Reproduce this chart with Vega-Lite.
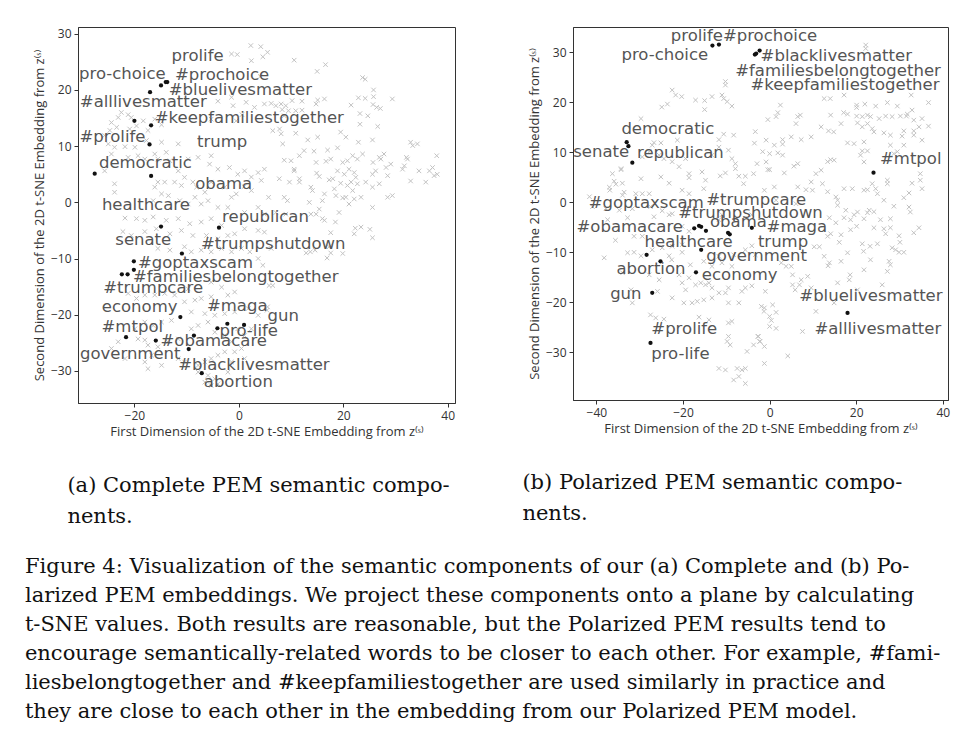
{
 "$schema": "https://vega.github.io/schema/vega-lite/v6.json",
 "background": "white",
 "padding": {"left": 24, "top": 26, "right": 5, "bottom": 5},
 "autosize": {"type": "pad"},
 "config": {
  "view": {"stroke": "#333", "strokeWidth": 1},
  "axis": {"grid": false, "domainColor": "#333", "tickColor": "#333", "tickSize": 4, "labelFont": "Open Sans", "labelFontSize": 12, "labelColor": "#333", "titleFont": "Open Sans", "titleFontSize": 13, "titleFontWeight": "normal", "titleColor": "#333", "labelPadding": 3, "titlePadding": 4},
  "title": {"font": "DejaVu Serif", "fontSize": 21, "fontWeight": "normal", "color": "#111", "anchor": "start", "lineHeight": 30, "orient": "bottom", "frame": "bounds"}
 },
 "title": {"text": ["Figure 4: Visualization of the semantic components of our (a) Complete and (b) Po-", "larized PEM embeddings. We project these components onto a plane by calculating", "t-SNE values. Both results are reasonable, but the Polarized PEM results tend to", "encourage semantically-related words to be closer to each other. For example, #fami-", "liesbelongtogether and #keepfamiliestogether are used similarly in practice and", "they are close to each other in the embedding from our Polarized PEM model."], "orient": "bottom", "anchor": "start", "frame": "bounds", "offset": 28, "dx": -8, "lineHeight": 29, "fontSize": 21},
 "datasets": {
  "bgA": [
   {"x":-1.4,"y":26.4},{"x":-0.3,"y":26.3},{"x":2.3,"y":27.9},{"x":4.2,"y":27.7},{"x":4.6,"y":25.9},{"x":2.4,"y":25.2},{"x":4.1,"y":22.4},{"x":-1.4,"y":18.7},{"x":-1.1,"y":17.2},{"x":1.4,"y":17.8},{"x":3.0,"y":16.9},{"x":4.9,"y":17.5},{"x":-0.5,"y":14.5},{"x":0.6,"y":15.6},{"x":-4.0,"y":18.0},{"x":-5.3,"y":14.8},{"x":-22.5,"y":16.0},{"x":-21.2,"y":15.6},{"x":-20.6,"y":15.1},{"x":-23.1,"y":15.1},{"x":-24.4,"y":14.2},{"x":-23.4,"y":13.35},{"x":-24.7,"y":12.8},{"x":-25.7,"y":11.9},{"x":-25.0,"y":10.4},{"x":-23.8,"y":9.8},{"x":-21.8,"y":9.9},{"x":-19.9,"y":9.8},{"x":-20.9,"y":13.05},{"x":-19.6,"y":13.6},{"x":-18.3,"y":14.5},{"x":-16.1,"y":14.8},{"x":-14.8,"y":13.8},{"x":-17.4,"y":12.8},{"x":-17.7,"y":11.0},{"x":-14.8,"y":10.7},{"x":-13.9,"y":8.9},{"x":-16.1,"y":8.6},{"x":-18.0,"y":7.7},{"x":-19.3,"y":8.3},{"x":-21.2,"y":8.0},{"x":-15.5,"y":7.7},{"x":-13.2,"y":7.4},{"x":-11.6,"y":10.4},{"x":-9.7,"y":7.7},{"x":-7.8,"y":8.0},{"x":-5.3,"y":8.3},{"x":-5.6,"y":6.8},{"x":-4.0,"y":5.9},{"x":-1.8,"y":6.2},{"x":-0.2,"y":5.0},{"x":1.1,"y":5.6},{"x":2.4,"y":4.5},{"x":3.7,"y":5.3},{"x":4.3,"y":3.9},{"x":4.9,"y":5.9},{"x":2.4,"y":2.1},{"x":1.0,"y":2.8},{"x":-0.5,"y":1.5},{"x":-2.7,"y":2.7},{"x":-1.4,"y":0.9},{"x":-5.3,"y":3.6},{"x":-6.5,"y":1.8},{"x":-8.1,"y":2.7},{"x":-8.8,"y":3.6},{"x":-11.0,"y":3.0},{"x":-12.3,"y":3.6},{"x":-14.2,"y":3.6},{"x":-15.5,"y":3.6},{"x":-16.1,"y":2.7},{"x":-23.8,"y":3.3},{"x":-23.8,"y":1.8},{"x":-25.7,"y":5.6},{"x":-24.4,"y":8.6},{"x":-11.6,"y":5.6},{"x":-10.4,"y":4.45},{"x":-8.4,"y":0.9},{"x":-9.7,"y":-0.3},{"x":-11.3,"y":0.3},{"x":-13.5,"y":1.2},{"x":-14.8,"y":1.5},{"x":-16.4,"y":0.3},{"x":-7.2,"y":-0.3},{"x":-5.9,"y":0.3},{"x":-4.0,"y":-0.9},{"x":-2.1,"y":-0.9},{"x":1.1,"y":-1.8},{"x":3.7,"y":-0.9},{"x":4.9,"y":-2.1},
   {"x":5.5,"y":26.7},{"x":10.6,"y":25.3},{"x":16.6,"y":24.5},{"x":15.0,"y":23.3},{"x":23.7,"y":22.2},{"x":24.2,"y":21.9},{"x":25.8,"y":20.0},{"x":29.4,"y":18.4},{"x":22.9,"y":18.6},{"x":24.2,"y":18.5},{"x":25.8,"y":18.8},{"x":21.5,"y":17.3},{"x":23.2,"y":15.8},{"x":24.7,"y":15.4},{"x":26.4,"y":16.9},{"x":25.7,"y":17.4},{"x":27.1,"y":16.7},{"x":23.2,"y":13.9},{"x":26.6,"y":13.5},{"x":25.6,"y":11.1},{"x":15.1,"y":18.2},{"x":16.4,"y":18.4},{"x":14.8,"y":17.5},{"x":12.1,"y":18.0},{"x":12.1,"y":16.4},{"x":10.2,"y":18.1},{"x":9.0,"y":17.2},{"x":8.1,"y":17.5},{"x":7.1,"y":17.2},{"x":6.2,"y":17.6},{"x":8.3,"y":16.5},{"x":9.5,"y":16.3},{"x":10.9,"y":16.3},{"x":8.7,"y":15.4},{"x":7.8,"y":13.05},{"x":6.5,"y":12.75},{"x":8.1,"y":12.2},{"x":10.9,"y":12.3},{"x":13.2,"y":11.1},{"x":15.1,"y":11.6},{"x":8.4,"y":10.4},{"x":8.7,"y":7.5},{"x":10.0,"y":7.4},{"x":10.6,"y":5.9},{"x":11.6,"y":8.3},{"x":12.5,"y":9.2},{"x":14.4,"y":9.1},{"x":17.0,"y":9.3},{"x":18.9,"y":9.7},{"x":20.5,"y":11.6},{"x":19.5,"y":12.5},{"x":22.9,"y":10.7},{"x":23.7,"y":8.6},{"x":21.8,"y":8.3},{"x":20.8,"y":7.4},{"x":22.7,"y":7.7},{"x":19.9,"y":7.1},{"x":17.6,"y":7.7},{"x":16.7,"y":7.3},{"x":14.8,"y":7.1},{"x":14.9,"y":5.2},{"x":15.4,"y":4.6},{"x":17.3,"y":4.0},{"x":18.0,"y":4.2},{"x":18.9,"y":5.6},{"x":20.2,"y":5.0},{"x":21.1,"y":5.9},{"x":22.1,"y":5.3},{"x":22.4,"y":4.45},{"x":22.7,"y":3.3},{"x":21.5,"y":3.6},{"x":21.8,"y":2.1},{"x":20.8,"y":3.0},{"x":19.5,"y":3.4},{"x":18.3,"y":2.4},{"x":16.4,"y":1.5},{"x":18.6,"y":1.2},{"x":19.9,"y":0.8},{"x":24.3,"y":3.6},{"x":25.6,"y":5.0},{"x":26.2,"y":5.6},{"x":25.7,"y":7.1},{"x":26.9,"y":8.0},{"x":27.8,"y":8.6},{"x":27.2,"y":7.7},{"x":28.2,"y":6.2},{"x":29.1,"y":6.8},{"x":28.5,"y":4.75},{"x":28.5,"y":0.9},{"x":29.4,"y":1.2},{"x":26.9,"y":3.3},{"x":25.6,"y":2.7},{"x":31.35,"y":5.9},{"x":31.7,"y":6.5},{"x":32.9,"y":3.8},{"x":34.5,"y":5.6},{"x":35.8,"y":3.6},{"x":36.5,"y":5.6},{"x":37.1,"y":6.2},{"x":37.4,"y":4.75},{"x":38.0,"y":5.0},{"x":32.3,"y":7.7},{"x":32.1,"y":8.0},{"x":32.9,"y":10.7},{"x":33.3,"y":10.1},{"x":34.2,"y":10.4},{"x":37.9,"y":8.3},{"x":14.1,"y":2.1},{"x":13.8,"y":2.7},{"x":9.3,"y":0.3},{"x":8.7,"y":0.9},{"x":9.7,"y":3.6},{"x":10.6,"y":5.6},{"x":11.6,"y":3.6},{"x":11.6,"y":4.2},{"x":7.75,"y":4.2},{"x":5.7,"y":0.9},{"x":13.5,"y":0.0},{"x":15.4,"y":-1.2},{"x":16.0,"y":0.3},{"x":19.2,"y":-1.8},{"x":20.5,"y":0.9},{"x":21.1,"y":-0.3},{"x":22.1,"y":0.6},{"x":23.4,"y":0.9},{"x":25.6,"y":-0.9},{"x":14.8,"y":-2.1},{"x":13.8,"y":-2.1},{"x":9.0,"y":-2.1},{"x":7.1,"y":-1.8},
   {"x":-21.8,"y":-2.8},{"x":-19.6,"y":-2.9},{"x":-18.0,"y":-3.2},{"x":-16.4,"y":-2.6},{"x":-13.9,"y":-3.2},{"x":-11.6,"y":-2.9},{"x":-9.4,"y":-3.8},{"x":-7.2,"y":-3.5},{"x":-5.3,"y":-2.9},{"x":-3.3,"y":-4.1},{"x":-0.8,"y":-5.6},{"x":1.1,"y":-4.7},{"x":3.7,"y":-5.0},{"x":4.9,"y":-5.3},{"x":-22.2,"y":-5.2},{"x":-20.6,"y":-5.9},{"x":-18.0,"y":-5.2},{"x":-15.8,"y":-4.7},{"x":-13.2,"y":-5.6},{"x":-11.0,"y":-5.0},{"x":-8.8,"y":-5.9},{"x":-6.2,"y":-5.9},{"x":-4.0,"y":-6.5},{"x":-2.1,"y":-5.9},{"x":-15.5,"y":-8.2},{"x":-13.2,"y":-8.5},{"x":-10.4,"y":-7.9},{"x":-9.1,"y":-8.8},{"x":-7.2,"y":-8.5},{"x":-5.3,"y":-8.8},{"x":-3.3,"y":-8.2},{"x":-1.4,"y":-8.8},{"x":0.5,"y":-8.2},{"x":2.1,"y":-8.8},{"x":3.7,"y":-10.0},{"x":4.6,"y":-11.2},{"x":-5.3,"y":-14.2},{"x":-3.3,"y":-15.1},{"x":-2.1,"y":-16.5},{"x":-0.8,"y":-15.95},{"x":-5.3,"y":-16.8},{"x":-7.2,"y":-17.1},{"x":-8.4,"y":-17.4},{"x":-10.4,"y":-17.7},{"x":-9.7,"y":-15.4},{"x":-12.3,"y":-16.5},{"x":-14.2,"y":-16.2},{"x":-16.1,"y":-16.5},{"x":-18.0,"y":-16.5},{"x":-19.6,"y":-17.1},{"x":-21.2,"y":-16.2},{"x":-9.1,"y":-19.5},{"x":-6.5,"y":-19.8},{"x":-4.6,"y":-20.1},{"x":-2.7,"y":-19.8},{"x":-0.8,"y":-19.5},{"x":1.8,"y":-18.9},{"x":3.7,"y":-20.1},{"x":-12.9,"y":-21.0},{"x":-14.8,"y":-21.3},{"x":-16.4,"y":-21.9},{"x":-18.0,"y":-21.3},{"x":-19.9,"y":-22.5},{"x":-19.3,"y":-24.3},{"x":-18.0,"y":-24.5},{"x":-17.4,"y":-25.4},{"x":-15.5,"y":-25.7},{"x":-16.7,"y":-27.2},{"x":-18.0,"y":-28.4},{"x":-17.4,"y":-29.6},{"x":-13.6,"y":-24.8},{"x":-11.6,"y":-24.3},{"x":-9.1,"y":-22.5},{"x":-7.8,"y":-21.9},{"x":-5.9,"y":-21.3},{"x":-4.6,"y":-23.1},{"x":-2.7,"y":-23.7},{"x":-1.4,"y":-24.8},{"x":-0.2,"y":-22.5},{"x":1.1,"y":-23.7},{"x":2.4,"y":-22.5},{"x":0.5,"y":-26.0},{"x":-0.8,"y":-26.6},{"x":-2.7,"y":-26.6},{"x":-4.0,"y":-27.2},{"x":-5.3,"y":-27.8},{"x":-6.5,"y":-28.4},{"x":-7.8,"y":-29.0},{"x":-5.9,"y":-30.8},{"x":-4.6,"y":-31.4},{"x":-4.0,"y":-32.3},{"x":-5.3,"y":-32.6},{"x":-6.5,"y":-32.0},{"x":-7.8,"y":-30.2},{"x":-10.4,"y":-28.4},{"x":-11.6,"y":-27.8},{"x":-1.4,"y":-28.4},{"x":1.1,"y":-27.8},{"x":-2.1,"y":-30.2},{"x":-14.8,"y":-29.0},{"x":-21.8,"y":-27.8},{"x":-24.4,"y":-26.0},{"x":-23.1,"y":-24.8},
   {"x":16.0,"y":-2.9},{"x":18.5,"y":-3.5},{"x":17.6,"y":-5.4},{"x":16.4,"y":-3.2},{"x":22.3,"y":-4.6},{"x":23.4,"y":-4.4},{"x":25.1,"y":-4.8},{"x":22.1,"y":-5.6},{"x":25.6,"y":-6.3},{"x":17.3,"y":-7.9},{"x":16.9,"y":-9.9},{"x":17.6,"y":-9.0},{"x":19.9,"y":-9.1},{"x":12.9,"y":-9.0},{"x":13.7,"y":-8.8},{"x":14.6,"y":-8.5},{"x":6.2,"y":-8.2},{"x":5.8,"y":-14.8},{"x":6.5,"y":-14.8},{"x":5.4,"y":-19.2},{"x":5.5,"y":-18.6}
  ],
  "ptA": [
   {"word":"prolife","x":-13.7,"y":21.4},{"word":"pro-choice","x":-17.0,"y":19.6},{"word":"#prochoice","x":-14.0,"y":21.4},{"word":"#bluelivesmatter","x":-14.9,"y":20.8},{"word":"#alllivesmatter","x":-20.0,"y":14.5},{"word":"#keepfamiliestogether","x":-16.8,"y":13.7},{"word":"#prolife","x":-17.1,"y":10.3},{"word":"democratic","x":-27.6,"y":5.1},{"word":"trump","x":-16.8,"y":4.7},{"word":"healthcare","x":-14.9,"y":-4.3},{"word":"republican","x":-3.8,"y":-4.5},{"word":"senate","x":-10.9,"y":-9.1},{"word":"#goptaxscam","x":-20.1,"y":-10.5},{"word":"#familiesbelongtogether","x":-20.1,"y":-12.0},{"word":"#trumpcare","x":-22.4,"y":-12.8},{"word":"#trumpshutdown","x":-21.3,"y":-12.8},{"word":"economy","x":-11.2,"y":-20.4},{"word":"#mtpol","x":-21.6,"y":-24.0},{"word":"#obamacare","x":-15.9,"y":-24.6},{"word":"government","x":-8.6,"y":-23.7},{"word":"#blacklivesmatter","x":-9.6,"y":-26.1},{"word":"#maga","x":-4.1,"y":-22.4},{"word":"pro-life","x":-2.2,"y":-21.6},{"word":"gun","x":1.0,"y":-21.8},{"word":"abortion","x":-7.1,"y":-30.4}
  ],
  "lblA": [
   {"word":"prolife","x":-7.9,"y":26.0},{"word":"pro-choice","x":-22.3,"y":22.8},{"word":"#prochoice","x":-3.2,"y":22.7},{"word":"#bluelivesmatter","x":0.3,"y":20.0},{"word":"#alllivesmatter","x":-18.3,"y":17.8},{"word":"#keepfamiliestogether","x":2.0,"y":15.0},{"word":"#prolife","x":-24.2,"y":11.7},{"word":"trump","x":-3.2,"y":10.8},{"word":"democratic","x":-17.9,"y":7.0},{"word":"obama","x":-2.9,"y":3.3},{"word":"healthcare","x":-17.8,"y":-0.4},{"word":"republican","x":5.1,"y":-2.6},{"word":"senate","x":-18.3,"y":-6.7},{"word":"#trumpshutdown","x":6.6,"y":-7.4},{"word":"#goptaxscam","x":-8.3,"y":-10.8},{"word":"#familiesbelongtogether","x":-0.6,"y":-13.3},{"word":"#trumpcare","x":-16.4,"y":-15.2},{"word":"economy","x":-19.0,"y":-18.6},{"word":"#maga","x":-0.3,"y":-18.5},{"word":"gun","x":8.5,"y":-20.2},{"word":"#mtpol","x":-20.4,"y":-22.2},{"word":"pro-life","x":1.9,"y":-22.9},{"word":"#obamacare","x":-4.8,"y":-24.7},{"word":"government","x":-20.8,"y":-27.0},{"word":"#blacklivesmatter","x":2.9,"y":-28.9},{"word":"abortion","x":-0.1,"y":-31.9}
  ],
  "bgB": [
   {"x":-22.5,"y":22.4},{"x":-21.7,"y":21.4},{"x":-20.3,"y":21.1},{"x":-17.1,"y":20.4},{"x":-15.0,"y":20.3},{"x":-13.3,"y":21.1},{"x":-11.0,"y":21.4},{"x":-10.2,"y":23.4},{"x":-10.2,"y":24.1},{"x":-10.6,"y":20.7},{"x":-9.8,"y":20.1},{"x":-8.7,"y":19.2},{"x":-15.0,"y":18.5},{"x":-23.6,"y":19.6},{"x":-24.9,"y":19.0},{"x":-29.7,"y":16.7},{"x":-10.6,"y":13.6},{"x":-8.3,"y":13.4},{"x":-11.7,"y":12.5},{"x":-11.7,"y":11.0},{"x":-13.3,"y":9.4},{"x":-9.5,"y":10.4},{"x":-8.7,"y":8.7},{"x":-7.9,"y":7.7},{"x":-7.9,"y":6.7},{"x":-5.6,"y":5.2},{"x":-3.7,"y":5.7},{"x":-2.9,"y":7.7},{"x":-3.5,"y":11.8},{"x":-3.3,"y":14.1},{"x":-7.1,"y":5.2},{"x":-6.0,"y":3.7},{"x":-10.2,"y":5.85},{"x":-11.4,"y":5.25},{"x":-14.8,"y":4.4},{"x":-15.6,"y":6.05},{"x":-18.6,"y":5.7},{"x":-18.6,"y":4.9},{"x":-20.9,"y":7.1},{"x":-22.5,"y":8.1},{"x":-24.4,"y":8.7},{"x":-25.5,"y":9.4},{"x":-26.7,"y":11.9},{"x":-29.7,"y":4.7},{"x":-29.4,"y":1.7},{"x":-30.9,"y":1.7},{"x":-34.0,"y":3.8},{"x":-35.9,"y":4.2},{"x":-37.0,"y":3.0},{"x":-36.9,"y":2.4},{"x":-35.5,"y":3.6},{"x":-36.3,"y":5.7},{"x":-34.3,"y":6.5},{"x":-25.1,"y":5.05},{"x":-23.2,"y":3.8},{"x":-20.2,"y":2.4},{"x":-18.6,"y":1.7},{"x":-15.2,"y":2.7},{"x":-27.8,"y":1.7},{"x":-33.6,"y":2.0},{"x":-27.5,"y":-0.9},{"x":-24.8,"y":-1.7},{"x":-22.5,"y":-2.3},{"x":-31.7,"y":-1.3},{"x":-34.7,"y":-1.6},{"x":-37.8,"y":-1.3},{"x":-40.9,"y":-0.9},{"x":-41.6,"y":1.1},{"x":-33.96,"y":1.4},{"x":-21.3,"y":12.4},{"x":-19.4,"y":8.7},{"x":-25.1,"y":11.85},{"x":-27.1,"y":11.4},{"x":-29.4,"y":9.05},{"x":-27.8,"y":10.1},{"x":-34.3,"y":6.7},
   {"x":22.2,"y":31.4},{"x":22.2,"y":30.7},{"x":12.6,"y":20.7},{"x":14.0,"y":20.7},{"x":17.2,"y":21.4},{"x":20.1,"y":19.4},{"x":20.1,"y":18.9},{"x":22.0,"y":19.6},{"x":24.5,"y":19.2},{"x":27.2,"y":19.9},{"x":29.5,"y":19.2},{"x":32.7,"y":21.4},{"x":32.9,"y":18.4},{"x":36.7,"y":19.9},{"x":35.2,"y":16.7},{"x":33.3,"y":16.4},{"x":31.6,"y":17.2},{"x":31.8,"y":17.6},{"x":30.2,"y":17.2},{"x":28.3,"y":17.1},{"x":26.8,"y":17.2},{"x":25.3,"y":16.7},{"x":23.3,"y":17.1},{"x":22.6,"y":17.4},{"x":21.4,"y":17.1},{"x":20.1,"y":17.2},{"x":18.0,"y":17.6},{"x":17.1,"y":17.9},{"x":14.1,"y":17.4},{"x":7.1,"y":17.4},{"x":6.5,"y":17.1},{"x":1.9,"y":17.9},{"x":2.5,"y":19.4},{"x":1.5,"y":17.1},{"x":-0.4,"y":16.5},{"x":6.1,"y":15.7},{"x":11.9,"y":15.05},{"x":13.6,"y":14.25},{"x":14.8,"y":14.05},{"x":9.6,"y":13.05},{"x":7.3,"y":12.5},{"x":5.0,"y":13.05},{"x":3.0,"y":12.5},{"x":1.1,"y":11.4},{"x":3.0,"y":11.6},{"x":-0.8,"y":12.4},{"x":-1.6,"y":10.1},{"x":0.0,"y":9.7},{"x":1.9,"y":9.85},{"x":3.0,"y":9.4},{"x":6.5,"y":7.7},{"x":5.6,"y":7.2},{"x":3.4,"y":5.85},{"x":-0.4,"y":6.5},{"x":-0.8,"y":8.05},{"x":0.0,"y":6.5},{"x":14.1,"y":8.5},{"x":14.9,"y":8.4},{"x":13.4,"y":8.1},{"x":11.9,"y":6.4},{"x":10.7,"y":5.7},{"x":9.6,"y":4.05},{"x":8.4,"y":2.5},{"x":9.9,"y":2.4},{"x":12.2,"y":3.7},{"x":13.4,"y":2.1},{"x":15.3,"y":1.05},{"x":15.7,"y":0.4},{"x":17.2,"y":2.7},{"x":19.1,"y":2.7},{"x":21.8,"y":2.4},{"x":22.6,"y":2.5},{"x":23.7,"y":3.7},{"x":24.5,"y":2.7},{"x":24.9,"y":1.7},{"x":23.0,"y":-1.6},{"x":24.1,"y":-1.9},{"x":26.4,"y":0.4},{"x":28.7,"y":-0.8},{"x":31.0,"y":0.9},{"x":32.2,"y":1.85},{"x":32.2,"y":-0.96},{"x":32.5,"y":-1.96},{"x":35.2,"y":2.7},{"x":34.8,"y":4.4},{"x":34.8,"y":5.7},{"x":32.9,"y":3.8},{"x":27.2,"y":3.7},{"x":27.2,"y":4.4},{"x":21.8,"y":8.05},{"x":21.0,"y":9.4},{"x":21.4,"y":10.25},{"x":22.6,"y":10.25},{"x":21.8,"y":12.05},{"x":19.5,"y":11.7},{"x":18.0,"y":11.85},{"x":16.5,"y":15.7},{"x":20.3,"y":15.85},{"x":21.4,"y":15.05},{"x":22.6,"y":15.7},{"x":23.7,"y":14.7},{"x":24.1,"y":14.05},{"x":26.4,"y":13.85},{"x":27.9,"y":13.4},{"x":31.0,"y":14.25},{"x":30.6,"y":13.2},{"x":33.3,"y":13.4},{"x":33.3,"y":14.25},{"x":34.5,"y":15.05},{"x":35.2,"y":12.4},{"x":36.7,"y":15.2},{"x":28.7,"y":9.7},{"x":29.5,"y":10.1},{"x":31.0,"y":11.4},{"x":27.9,"y":11.4},{"x":1.1,"y":3.05},{"x":1.5,"y":0.4},{"x":-1.2,"y":2.4},{"x":6.5,"y":3.05},{"x":6.1,"y":-0.3},{"x":15.7,"y":-0.6},{"x":17.6,"y":-1.6},{"x":20.3,"y":-1.96},
   {"x":-38.2,"y":-11.1},{"x":-35.6,"y":-7.6},{"x":-32.8,"y":-10.1},{"x":-31.3,"y":-10.0},{"x":-29.7,"y":-10.7},{"x":-26.7,"y":-2.9},{"x":-23.2,"y":-2.5},{"x":-20.2,"y":-4.8},{"x":-18.6,"y":-5.8},{"x":-23.2,"y":-10.7},{"x":-22.6,"y":-11.5},{"x":-20.2,"y":-10.0},{"x":-18.3,"y":-12.5},{"x":-18.6,"y":-15.1},{"x":-20.9,"y":-14.5},{"x":-20.2,"y":-16.1},{"x":-19.4,"y":-17.5},{"x":-17.1,"y":-16.5},{"x":-15.9,"y":-16.1},{"x":-14.8,"y":-16.5},{"x":-13.3,"y":-17.1},{"x":-11.7,"y":-18.1},{"x":-10.2,"y":-18.1},{"x":-9.5,"y":-17.1},{"x":-13.3,"y":-19.1},{"x":-15.2,"y":-19.5},{"x":-16.7,"y":-19.8},{"x":-17.9,"y":-20.1},{"x":-19.8,"y":-20.1},{"x":-22.5,"y":-19.1},{"x":-25.9,"y":-17.8},{"x":-25.5,"y":-15.5},{"x":-27.8,"y":-14.5},{"x":-32.0,"y":-17.5},{"x":-31.7,"y":-20.1},{"x":-27.5,"y":-22.5},{"x":-26.3,"y":-23.1},{"x":-24.4,"y":-23.35},{"x":-16.3,"y":-22.95},{"x":-14.0,"y":-23.5},{"x":-9.5,"y":-24.1},{"x":-8.7,"y":-23.8},{"x":-9.5,"y":-26.8},{"x":-9.1,"y":-28.5},{"x":-9.8,"y":-27.8},{"x":-11.7,"y":-33.2},{"x":-10.2,"y":-33.5},{"x":-7.5,"y":-33.2},{"x":-6.4,"y":-33.5},{"x":-5.6,"y":-33.2},{"x":-7.1,"y":-34.8},{"x":-8.3,"y":-35.5},{"x":-5.6,"y":-36.2},{"x":-2.6,"y":-26.8},{"x":-3.7,"y":-28.5},{"x":-5.2,"y":-29.8},{"x":-2.2,"y":-27.8},{"x":-6.4,"y":-17.8},{"x":-5.6,"y":-17.1},{"x":-4.1,"y":-16.7},{"x":-7.1,"y":-20.1},{"x":-9.5,"y":-20.1},{"x":-5.6,"y":-9.5},{"x":-4.1,"y":-8.7},{"x":-3.3,"y":-10.5},{"x":-11.0,"y":-12.1},{"x":-8.7,"y":-12.8},{"x":-14.0,"y":-16.1},{"x":-11.7,"y":-3.5},{"x":-11.0,"y":-2.5},{"x":-4.1,"y":-2.5},{"x":-37.4,"y":-3.5},{"x":-32.8,"y":-3.1},{"x":-31.3,"y":-6.8},{"x":-29.4,"y":-6.8},{"x":-27.1,"y":-9.5},{"x":-24.8,"y":-9.1},{"x":-22.5,"y":-8.8},{"x":-20.2,"y":-8.5},{"x":-15.2,"y":-11.8},{"x":-13.3,"y":-12.8},{"x":-11.7,"y":-10.8},{"x":-8.3,"y":-10.5},{"x":-33.96,"y":-14.1},
   {"x":13.8,"y":-3.1},{"x":15.3,"y":-4.1},{"x":17.2,"y":-3.1},{"x":18.7,"y":-3.5},{"x":20.1,"y":-4.8},{"x":21.8,"y":-3.3},{"x":24.1,"y":-5.1},{"x":25.6,"y":-3.5},{"x":26.4,"y":-5.3},{"x":27.9,"y":-5.1},{"x":26.8,"y":-6.3},{"x":27.9,"y":-3.3},{"x":29.9,"y":-6.7},{"x":33.3,"y":-6.1},{"x":34.5,"y":-5.1},{"x":16.5,"y":-6.5},{"x":14.1,"y":-6.3},{"x":13.4,"y":-6.8},{"x":10.3,"y":-8.9},{"x":11.5,"y":-8.9},{"x":12.6,"y":-10.8},{"x":13.8,"y":-12.1},{"x":13.5,"y":-12.7},{"x":16.1,"y":-8.0},{"x":21.4,"y":-8.3},{"x":23.2,"y":-8.8},{"x":24.9,"y":-8.3},{"x":21.7,"y":-9.8},{"x":28.3,"y":-9.1},{"x":29.1,"y":-9.5},{"x":29.9,"y":-10.0},{"x":31.0,"y":-10.0},{"x":30.1,"y":-8.0},{"x":27.6,"y":-11.8},{"x":27.9,"y":-12.5},{"x":27.2,"y":-13.8},{"x":18.6,"y":-14.5},{"x":18.4,"y":-15.5},{"x":26.0,"y":-16.5},{"x":14.9,"y":-20.1},{"x":10.7,"y":-21.8},{"x":8.8,"y":-14.8},{"x":7.3,"y":-15.5},{"x":5.3,"y":-14.5},{"x":5.3,"y":-16.5},{"x":5.9,"y":-17.5},{"x":6.9,"y":-16.5},{"x":9.6,"y":-17.1},{"x":7.6,"y":-25.8},{"x":4.2,"y":-30.7},{"x":3.8,"y":-12.8},{"x":5.0,"y":-12.8},{"x":2.7,"y":-12.1},{"x":0.7,"y":-20.5},{"x":1.5,"y":-22.0},{"x":-1.2,"y":-21.1},{"x":-1.3,"y":-21.8},{"x":0.0,"y":-22.8},{"x":0.4,"y":-23.6},{"x":0.0,"y":-24.8},{"x":1.5,"y":-25.2},{"x":-2.7,"y":-26.8},{"x":-2.3,"y":-27.8},{"x":-1.2,"y":-28.8},{"x":-1.0,"y":-17.8},{"x":-1.9,"y":-20.8},{"x":19.5,"y":-2.5},{"x":22.6,"y":-2.1},{"x":18.7,"y":-5.5},{"x":18.0,"y":-10.1},{"x":16.5,"y":-11.8},{"x":15.7,"y":-16.1},{"x":21.8,"y":-13.5},{"x":23.3,"y":-11.5},{"x":20.3,"y":-17.5},{"x":-1.2,"y":-32.2}
  ],
  "ptB": [
   {"word":"pro-choice","x":-13.2,"y":31.3},{"word":"prolife","x":-11.7,"y":31.5},{"word":"#familiesbelongtogether","x":-3.4,"y":29.5},{"word":"#keepfamiliestogether","x":-3.1,"y":29.7},{"word":"#blacklivesmatter","x":-2.3,"y":30.3},{"word":"democratic","x":-33.0,"y":12.0},{"word":"senate","x":-32.6,"y":11.2},{"word":"republican","x":-31.7,"y":7.9},{"word":"#mtpol","x":24.0,"y":5.9},{"word":"#goptaxscam","x":-17.4,"y":-5.2},{"word":"#trumpcare","x":-16.3,"y":-4.7},{"word":"#trumpshutdown","x":-15.8,"y":-4.9},{"word":"#obamacare","x":-14.7,"y":-5.7},{"word":"obama","x":-9.6,"y":-6.1},{"word":"trump","x":-9.2,"y":-6.4},{"word":"#maga","x":-4.1,"y":-5.1},{"word":"government","x":-15.8,"y":-9.5},{"word":"healthcare","x":-28.4,"y":-10.5},{"word":"abortion","x":-25.2,"y":-11.8},{"word":"economy","x":-17.0,"y":-14.0},{"word":"gun","x":-27.1,"y":-18.1},{"word":"#bluelivesmatter","x":18.0,"y":-22.1},{"word":"pro-life","x":-27.5,"y":-28.1}
  ],
  "lblB": [
   {"word":"prolife","x":-16.8,"y":33.2},{"word":"#prochoice","x":0.1,"y":33.2},{"word":"pro-choice","x":-24.2,"y":29.5},{"word":"#blacklivesmatter","x":15.4,"y":29.2},{"word":"#familiesbelongtogether","x":15.8,"y":26.3},{"word":"#keepfamiliestogether","x":17.4,"y":23.5},{"word":"democratic","x":-23.5,"y":14.7},{"word":"senate","x":-38.9,"y":10.0},{"word":"republican","x":-20.6,"y":9.9},{"word":"#mtpol","x":32.6,"y":8.7},{"word":"#goptaxscam","x":-28.5,"y":-0.2},{"word":"#trumpcare","x":-3.1,"y":0.5},{"word":"#trumpshutdown","x":-4.4,"y":-2.1},{"word":"#obamacare","x":-32.3,"y":-5.0},{"word":"obama","x":-7.2,"y":-3.9},{"word":"#maga","x":6.3,"y":-4.9},{"word":"healthcare","x":-18.7,"y":-7.9},{"word":"trump","x":3.1,"y":-7.9},{"word":"government","x":-3.0,"y":-10.7},{"word":"abortion","x":-27.4,"y":-13.3},{"word":"economy","x":-6.9,"y":-14.5},{"word":"gun","x":-33.2,"y":-18.3},{"word":"#bluelivesmatter","x":23.4,"y":-18.7},{"word":"#alllivesmatter","x":25.0,"y":-25.3},{"word":"#prolife","x":-19.7,"y":-25.3},{"word":"pro-life","x":-20.6,"y":-30.3}
  ]
 },
 "hconcat": [
  {
   "width": 377, "height": 376,
   "title": {"text": ["(a) Complete PEM semantic compo-", "nents."], "offset": 37, "dx": 34, "lineHeight": 31},
   "encoding": {
    "x": {"field": "x", "type": "quantitative", "scale": {"domain": [-30.8, 41.4], "nice": false, "zero": false}, "axis": {"values": [-20, 0, 20, 40], "title": "First Dimension of the 2D t-SNE Embedding from  z⁽ˢ⁾"}},
    "y": {"field": "y", "type": "quantitative", "scale": {"domain": [-35.7, 31.2], "nice": false, "zero": false}, "axis": {"values": [-30, -20, -10, 0, 10, 20, 30], "title": "Second Dimension of the 2D t-SNE Embedding from  z⁽ˢ⁾"}}
   },
   "layer": [
    {"data": {"name": "bgA"}, "mark": {"type": "point", "shape": "M-1,-1L1,1M-1,1L1,-1", "filled": false, "size": 20, "stroke": "#c2c2c2", "strokeWidth": 1, "opacity": 1}},
    {"data": {"name": "ptA"}, "mark": {"type": "circle", "size": 18, "color": "#111", "opacity": 1}},
    {"data": {"name": "lblA"}, "mark": {"type": "text", "font": "DejaVu Sans", "fontSize": 16.5, "color": "#555", "align": "center", "baseline": "middle"}, "encoding": {"text": {"field": "word"}}}
   ]
  },
  {
   "width": 375, "height": 373,
   "title": {"text": ["(b) Polarized PEM semantic compo-", "nents."], "offset": 37, "dx": -6, "lineHeight": 31},
   "encoding": {
    "x": {"field": "x", "type": "quantitative", "scale": {"domain": [-45.4, 41.2], "nice": false, "zero": false}, "axis": {"values": [-40, -20, 0, 20, 40], "title": "First Dimension of the 2D t-SNE Embedding from  z⁽ˢ⁾"}},
    "y": {"field": "y", "type": "quantitative", "scale": {"domain": [-39.5, 35.0], "nice": false, "zero": false}, "axis": {"values": [-30, -20, -10, 0, 10, 20, 30], "title": "Second Dimension of the 2D t-SNE Embedding from  z⁽ˢ⁾"}}
   },
   "layer": [
    {"data": {"name": "bgB"}, "mark": {"type": "point", "shape": "M-1,-1L1,1M-1,1L1,-1", "filled": false, "size": 20, "stroke": "#c2c2c2", "strokeWidth": 1, "opacity": 1}},
    {"data": {"name": "ptB"}, "mark": {"type": "circle", "size": 18, "color": "#111", "opacity": 1}},
    {"data": {"name": "lblB"}, "mark": {"type": "text", "font": "DejaVu Sans", "fontSize": 16.5, "color": "#555", "align": "center", "baseline": "middle"}, "encoding": {"text": {"field": "word"}}}
   ]
  }
 ],
 "spacing": 118,
 "bounds": "flush"
}
